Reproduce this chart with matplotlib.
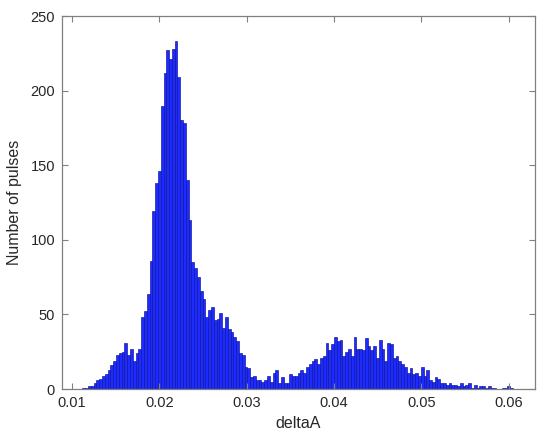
import numpy as np
import matplotlib.pyplot as plt

plt.rcParams['font.family'] = ['Liberation Sans', 'DejaVu Sans']

# histogram of deltaA, bin width 0.00032 starting at 0.0112
bin_start = 0.0112
bin_width = 0.00032
counts = [
    1, 1, 2, 2, 4, 6, 7, 9, 10, 13,
    16, 19, 23, 24, 25, 31, 23, 27, 19, 24,
    27, 48, 52, 64, 86, 119, 138, 146, 190, 212,
    227, 221, 228, 233, 209, 180, 178, 140, 113, 85,
    81, 75, 66, 60, 48, 53, 55, 46, 47, 51,
    41, 48, 40, 38, 35, 32, 24, 23, 15, 14,
    8, 9, 6, 6, 5, 6, 9, 5, 11, 13,
    4, 8, 4, 4, 10, 9, 9, 11, 13, 11,
    15, 17, 19, 20, 17, 21, 22, 31, 26, 30,
    35, 32, 33, 22, 25, 27, 22, 35, 27, 27,
    26, 34, 29, 26, 29, 21, 33, 27, 19, 31,
    30, 21, 22, 19, 17, 15, 11, 14, 10, 11,
    9, 15, 9, 13, 6, 5, 8, 7, 4, 4,
    3, 4, 3, 3, 2, 4, 2, 3, 4, 1,
    3, 1, 2, 2, 1, 2, 1, 1, 0, 0,
    1, 1, 2, 1,
]

x_ticks = [0.01, 0.02, 0.03, 0.04, 0.05, 0.06]
x_tick_labels = ['0.01', '0.02', '0.03', '0.04', '0.05', '0.06']
y_ticks = [0, 50, 100, 150, 200, 250]

edges = bin_start + bin_width * np.arange(len(counts))

fig = plt.figure(figsize=(5.5, 4.45), dpi=100)
ax = fig.add_axes([0.1127, 0.1258, 0.86, 0.8382])

ax.bar(edges, counts, width=bin_width, align='edge',
       color='#1c2cff', edgecolor='#10109a', linewidth=0.45)

ax.set_xlim(0.00886, 0.0630)
ax.set_ylim(0, 250)
ax.set_xticks(x_ticks)
ax.set_xticklabels(x_tick_labels)
ax.set_yticks(y_ticks)

for side in ax.spines.values():
    side.set_color('#808080')
    side.set_linewidth(0.9)
ax.tick_params(direction='in', length=4, width=0.8, color='#808080',
               top=True, right=True, labelsize=10.5, labelcolor='#262626',
               pad=5)

ax.set_xlabel('deltaA', fontsize=11.5, color='#262626', labelpad=4)
ax.set_ylabel('Number of pulses', fontsize=11.5, color='#262626', labelpad=6)

fig.savefig('out.png', dpi=100)
